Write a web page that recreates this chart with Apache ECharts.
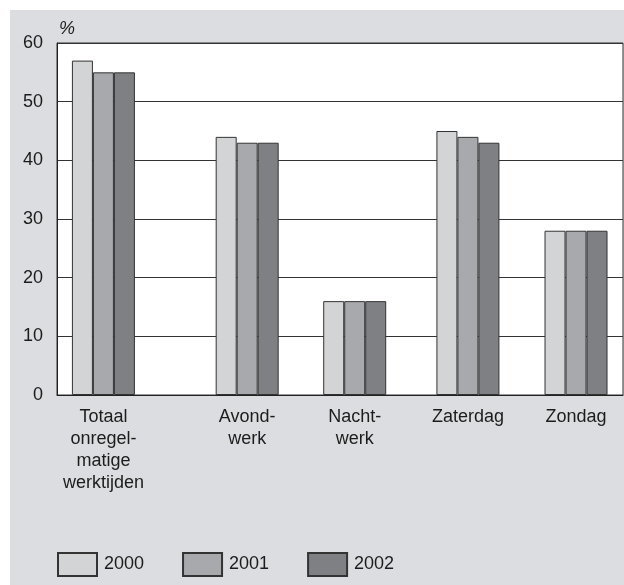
<!DOCTYPE html>
<html>
<head>
<meta charset="utf-8">
<script src="https://cdn.jsdelivr.net/npm/echarts@6/dist/echarts.min.js"></script>
<style>
html,body{margin:0;padding:0;background:#ffffff;}
#bg{position:absolute;left:10px;top:10px;width:614px;height:575px;background:#dcdde0;}
#chart{position:absolute;left:0;top:0;width:624px;height:585px;}
</style>
</head>
<body>
<div id="bg"></div>
<div id="chart"></div>
<script>
// Data
var categories = ['Totaal\nonregel-\nmatige\nwerktijden', 'Avond-\nwerk', 'Nacht-\nwerk', 'Zaterdag', 'Zondag'];
var seriesNames = ['2000', '2001', '2002'];
var values2000 = [57, 44, 16, 45, 28];
var values2001 = [55, 43, 16, 44, 28];
var values2002 = [55, 43, 16, 43, 28];
var yTicks = [0, 10, 20, 30, 40, 50, 60];

// Layout: category centres along the x axis (irregular spacing as in the original)
var catPos = [0.41, 1.68, 2.63, 3.63, 4.585];
var colors = ['#d3d4d6', '#a8a9ac', '#7f8084'];
var font = 'Liberation Sans, Arial, Helvetica, sans-serif';
var textColor = '#1c1c1c';

function build(vals) {
  return vals.map(function (v, i) { return [catPos[i], v]; });
}
var allVals = [values2000, values2001, values2002];

var chart = echarts.init(document.getElementById('chart'), null, {renderer: 'canvas'});
chart.setOption({
  animation: false,
  backgroundColor: 'transparent',
  textStyle: {fontFamily: font},
  grid: {
    left: 57, top: 43, width: 566, height: 352,
    show: true, backgroundColor: '#ffffff', borderColor: '#333333', borderWidth: 1
  },
  legend: {
    left: 57, top: 552, padding: 0,
    itemWidth: 39, itemHeight: 23, itemGap: 38,
    icon: 'rect',
    textStyle: {fontSize: 18, color: textColor, fontFamily: font, padding: [0, 0, 0, 2]},
    data: seriesNames
  },
  xAxis: {
    type: 'value', min: 0, max: 5,
    axisLine: {show: true, onZero: true, lineStyle: {color: '#222222', width: 1}},
    axisTick: {show: false},
    splitLine: {show: false},
    axisLabel: {
      customValues: catPos,
      margin: 11,
      fontSize: 18, lineHeight: 22, color: textColor, fontFamily: font,
      align: 'center', verticalAlign: 'top',
      formatter: function (val) {
        for (var i = 0; i < catPos.length; i++) {
          if (Math.abs(catPos[i] - val) < 1e-6) return categories[i];
        }
        return '';
      }
    }
  },
  yAxis: {
    type: 'value', min: yTicks[0], max: yTicks[yTicks.length - 1], interval: 10,
    name: '%', nameLocation: 'end', nameGap: 14,
    nameTextStyle: {fontSize: 18, fontStyle: 'italic', color: textColor, align: 'left', verticalAlign: 'middle', padding: [0, 0, 0, 2], fontFamily: font},
    axisLine: {show: true, lineStyle: {color: '#222222', width: 1}},
    axisTick: {show: false},
    splitLine: {show: true, lineStyle: {color: '#333333', width: 1}},
    axisLabel: {fontSize: 18, color: textColor, margin: 14, fontFamily: font}
  },
  series: seriesNames.map(function (n, k) {
    return {
      name: n, type: 'bar',
      barWidth: 21, barGap: '0%',
      itemStyle: {color: colors[k], borderColor: '#333333', borderWidth: 1},
      data: build(allVals[k])
    };
  })
});
</script>
</body>
</html>
